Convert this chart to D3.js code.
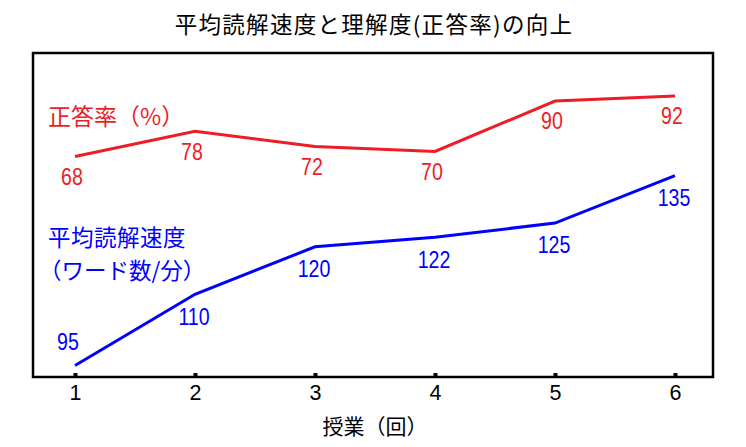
<!DOCTYPE html>
<html><head><meta charset="utf-8">
<script src="https://cdn.jsdelivr.net/npm/d3@7/dist/d3.min.js"></script>
<style>
html,body{margin:0;padding:0;background:#fff;}
svg{display:block;}
</style></head>
<body>
<svg id="chart" width="746" height="447"></svg>
<script>
const lessons = [1, 2, 3, 4, 5, 6];
const accuracy = [68, 78, 72, 70, 90, 92];
const speed = [95, 110, 120, 122, 125, 135];
const titleText = "平均読解速度と理解度(正答率)の向上";
const xTitle = "授業（回）";
const accLabel = "正答率（%）";
const speedLabel1 = "平均読解速度";
const speedLabel2 = "（ワード数/分）";

const RED = "#ee1c25", BLUE = "#0000ff";
const jp = "'Noto Sans CJK JP','Noto Sans',sans-serif";
const sans = "'Liberation Sans',Arial,sans-serif";
const svg = d3.select("#chart");

const frame = {left: 33, right: 713, top: 53, bottom: 377};

const x = d3.scaleLinear().domain([1, 6]).range([75, 675]);
const yAcc = d3.scaleLinear().domain([60, 100]).range([176.7, 75.8]);
const ySpd = d3.scaleLinear().domain([90, 140]).range([389.3, 151.8]);

// title
svg.append("text").attr("x", 374).attr("y", 23).attr("text-anchor", "middle")
  .attr("dominant-baseline", "central").attr("font-family", jp).attr("font-size", 22.5)
  .attr("letter-spacing", 1.3).attr("fill", "#000").text(titleText);

// frame
svg.append("rect").attr("x", frame.left).attr("y", frame.top)
  .attr("width", frame.right - frame.left).attr("height", frame.bottom - frame.top)
  .attr("fill", "none").attr("stroke", "#000").attr("stroke-width", 2.5);

// x axis
const xAxis = d3.axisBottom(x).tickValues(lessons).tickSize(0).tickPadding(8).tickFormat(d3.format("d"));
const gx = svg.append("g").attr("transform", `translate(0,${frame.bottom})`).call(xAxis);
gx.select(".domain").remove();
gx.selectAll(".tick text").attr("font-family", sans)
  .attr("font-size", 21.5).attr("fill", "#000");
gx.selectAll(".tick").append("rect").attr("x", -2).attr("y", -4).attr("width", 4).attr("height", 4).attr("fill", "#000");

svg.append("text").attr("x", 375).attr("y", 425).attr("text-anchor", "middle")
  .attr("dominant-baseline", "central").attr("font-family", jp).attr("font-size", 21)
  .attr("fill", "#000").text(xTitle);

// lines
const lineAcc = d3.line().x((d, i) => x(lessons[i])).y(d => yAcc(d));
const lineSpd = d3.line().x((d, i) => x(lessons[i])).y(d => ySpd(d));
svg.append("path").datum(accuracy).attr("d", lineAcc).attr("fill", "none")
  .attr("stroke", RED).attr("stroke-width", 3);
svg.append("path").datum(speed).attr("d", lineSpd).attr("fill", "none")
  .attr("stroke", BLUE).attr("stroke-width", 3);

// value labels (condensed digits)
svg.selectAll(".accLab").data(accuracy).enter().append("text")
  .attr("transform", (d, i) => `translate(${x(lessons[i]) - 3},${yAcc(d) + 20}) scale(0.8,1)`)
  .attr("text-anchor", "middle").attr("dominant-baseline", "central")
  .attr("font-family", sans).attr("font-size", 24.5).attr("fill", RED).text(d => d);
svg.selectAll(".spdLab").data(speed).enter().append("text")
  .attr("transform", (d, i) => `translate(${x(lessons[i]) - 1 - (i === 0 ? 6 : 0)},${ySpd(d) + (i === 0 ? -24 : 22)}) scale(0.8,1)`)
  .attr("text-anchor", "middle").attr("dominant-baseline", "central")
  .attr("font-family", sans).attr("font-size", 24.5).attr("fill", BLUE).text(d => d);

// series labels
svg.append("text").attr("x", 48).attr("y", 115).attr("dominant-baseline", "central")
  .attr("font-family", jp).attr("font-size", 23).attr("fill", RED).text(accLabel);
svg.append("text").attr("x", 48).attr("y", 236).attr("dominant-baseline", "central")
  .attr("font-family", jp).attr("font-size", 22.5).attr("letter-spacing", 0.5).attr("fill", BLUE).text(speedLabel1);
svg.append("text").attr("x", 39).attr("y", 269).attr("dominant-baseline", "central")
  .attr("font-family", jp).attr("font-size", 22.5).attr("fill", BLUE).text(speedLabel2);
</script>
</body></html>
